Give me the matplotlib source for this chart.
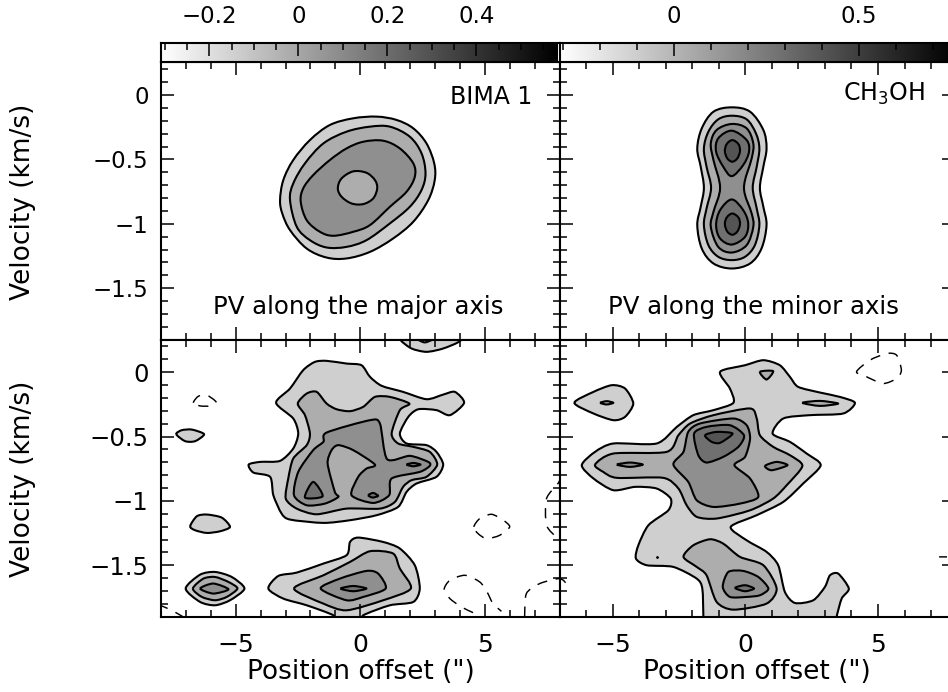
import numpy as np
import matplotlib
matplotlib.use("Agg")
import matplotlib.pyplot as plt
from matplotlib.path import Path
from matplotlib.patches import PathPatch
from matplotlib.ticker import FixedLocator, MultipleLocator, NullFormatter

W, H = 948, 692
plt.rcParams['font.family'] = ['DejaVu Sans']
plt.rcParams['axes.unicode_minus'] = True

G1, G2, G3, G4, G5 = 0.81, 0.68, 0.56, 0.44, 0.33

# ---------- top left (BIMA 1, major axis)
tl1x = [-3.22,-3.09,-2.69,-2.02,-1.22,-0.28,0.66,1.46,2.13,2.66,2.97,2.99,2.73,2.13,1.32,0.39,-0.55,-1.35,-2.15,-2.82,-3.13]
tl1y = [-0.816,-0.661,-0.505,-0.350,-0.233,-0.181,-0.168,-0.194,-0.259,-0.376,-0.531,-0.661,-0.816,-0.984,-1.114,-1.218,-1.269,-1.262,-1.192,-1.049,-0.920]
tl2x = [-2.82,-2.69,-2.22,-1.48,-0.55,0.39,1.19,1.99,2.46,2.62,2.46,1.99,1.19,0.25,-0.55,-1.35,-2.02,-2.55]
tl2y = [-0.816,-0.687,-0.531,-0.376,-0.285,-0.246,-0.246,-0.324,-0.453,-0.609,-0.738,-0.868,-0.997,-1.127,-1.179,-1.184,-1.127,-1.023]
tl3x = [-2.39,-2.29,-1.89,-1.22,-0.55,0.12,0.92,1.59,2.13,2.19,1.86,1.19,0.39,-0.28,-1.08,-1.62,-2.15]
tl3y = [-0.829,-0.725,-0.622,-0.505,-0.415,-0.363,-0.355,-0.415,-0.531,-0.635,-0.751,-0.868,-1.010,-1.062,-1.093,-1.062,-0.972]
tl4x = [-0.90,-0.75,-0.28,0.25,0.59,0.68,0.52,0.12,-0.35,-0.75]
tl4y = [-0.725,-0.648,-0.593,-0.604,-0.661,-0.725,-0.803,-0.847,-0.842,-0.790]

# ---------- top right (CH3OH, minor axis)
tr1x = [-0.51,0.18,0.68,0.80,0.68,0.55,0.68,0.80,0.61,0.18,-0.51,-1.20,-1.64,-1.81,-1.68,-1.56,-1.68,-1.81,-1.64,-1.20]
tr1y = [-0.096,-0.130,-0.272,-0.415,-0.557,-0.720,-0.868,-1.010,-1.192,-1.308,-1.347,-1.308,-1.192,-1.010,-0.868,-0.720,-0.557,-0.415,-0.259,-0.130]
tr2x = [-0.51,0.05,0.40,0.53,0.43,0.28,0.43,0.53,0.36,-0.01,-0.51,-1.02,-1.39,-1.56,-1.46,-1.29,-1.46,-1.56,-1.39,-1.02]
tr2y = [-0.161,-0.189,-0.298,-0.415,-0.557,-0.720,-0.881,-1.010,-1.166,-1.256,-1.282,-1.256,-1.166,-1.010,-0.881,-0.720,-0.557,-0.415,-0.285,-0.189]
tr3x = [-0.51,0.05,0.30,0.24,-0.05,0.24,0.30,0.05,-0.51,-1.02,-1.30,-1.20,-0.95,-1.20,-1.30,-1.08]
tr3y = [-0.225,-0.259,-0.376,-0.492,-0.720,-0.920,-1.023,-1.166,-1.223,-1.179,-1.023,-0.907,-0.720,-0.505,-0.376,-0.272]
tr4ax = [-0.51,0.05,0.14,-0.08,-0.51,-0.83,-1.10,-1.02]
tr4ay = [-0.277,-0.350,-0.440,-0.544,-0.630,-0.557,-0.440,-0.337]
tr4bx = [-0.51,-0.08,0.11,-0.01,-0.51,-0.95,-1.10,-0.95]
tr4by = [-0.811,-0.894,-0.997,-1.101,-1.161,-1.114,-1.010,-0.894]
tr5x = [-0.49,-0.26,-0.20,-0.30,-0.49,-0.68,-0.77,-0.70]
tr5ay = [-0.350,-0.381,-0.435,-0.492,-0.518,-0.492,-0.435,-0.381]
tr5by = [-0.920,-0.951,-1.003,-1.060,-1.085,-1.060,-1.003,-0.951]

# ---------- bottom left
bl_main1x = [-3.38,-2.82,-2.29,-1.82,-1.35,-0.55,0.05,0.39,0.86,1.72,2.66,3.33,3.80,4.17,3.60,3.06,2.33,1.93,1.59,1.86,2.66,3.06,3.33,3.06,2.26,1.86,1.52,0.66,-0.41,-1.48,-2.82,-3.16,-3.49,-3.62,-4.29,-4.48,-4.02,-3.22,-2.69,-2.49,-2.69]
bl_main1y = [-0.238,-0.127,0.016,0.080,0.088,0.067,0.054,-0.036,-0.106,-0.153,-0.210,-0.174,-0.153,-0.238,-0.334,-0.295,-0.288,-0.347,-0.477,-0.554,-0.567,-0.619,-0.718,-0.813,-0.865,-0.930,-1.047,-1.111,-1.150,-1.171,-1.145,-1.098,-0.956,-0.813,-0.780,-0.718,-0.697,-0.689,-0.593,-0.477,-0.360]
bl_main2x = [-2.51,-2.15,-1.75,-1.35,-0.95,-0.41,0.12,0.59,1.19,1.97,1.59,1.26,1.52,2.13,2.79,3.09,2.66,2.06,1.72,1.39,0.79,-0.55,-1.75,-2.55,-2.99,-2.89,-2.69,-2.15,-2.02,-2.22]
bl_main2y = [-0.244,-0.166,-0.153,-0.244,-0.288,-0.303,-0.269,-0.192,-0.192,-0.244,-0.295,-0.477,-0.554,-0.580,-0.619,-0.718,-0.813,-0.839,-0.891,-1.008,-1.060,-1.060,-1.104,-1.060,-0.982,-0.826,-0.671,-0.567,-0.477,-0.334]
bl_main3x = [-2.66,-2.49,-1.89,-1.48,-1.35,0.39,0.79,1.08,1.99,2.73,2.79,2.39,1.26,1.16,0.52,-0.35,-0.08,0.25,0.59,-0.28,-0.88,-1.15,-1.31,-1.02,-0.88,-1.42,-2.15]
bl_main3y = [-0.956,-0.775,-0.606,-0.541,-0.469,-0.373,-0.399,-0.676,-0.650,-0.697,-0.728,-0.775,-0.826,-0.956,-1.016,-0.956,-0.813,-0.749,-0.718,-0.606,-0.567,-0.606,-0.710,-0.930,-0.969,-1.021,-1.034]
bl_p1x = [-1.89,-1.51,-2.22]
bl_p1y = [-0.852,-0.964,-0.974]
bl_p2x = [0.32,0.52,0.72,0.49]
bl_p2y = [-0.956,-0.938,-0.961,-0.974]
bl_p3x = [1.86,2.13,2.42,2.13]
bl_p3y = [-0.718,-0.705,-0.718,-0.731]
bl_topx = [1.62,1.62,2.06,2.66,3.33,4.00,4.00]
bl_topy = [0.30,0.249,0.184,0.158,0.184,0.241,0.30]
bl_top2x = [2.33,2.59,2.90]
bl_top2y = [0.256,0.231,0.256]
bl_i1x = [-7.39,-7.17,-6.76,-6.27,-6.63,-7.03]
bl_i1y = [-0.482,-0.451,-0.446,-0.482,-0.536,-0.536]
bl_i2x = [-6.83,-6.56,-6.16,-5.56,-5.23,-5.63,-6.16,-6.63]
bl_i2y = [-1.197,-1.119,-1.106,-1.130,-1.202,-1.236,-1.249,-1.228]
bl_d1x = [-7.01,-6.43,-5.83,-5.16,-4.65,-5.23,-5.83,-6.43]
bl_d1y = [-1.681,-1.573,-1.552,-1.591,-1.681,-1.772,-1.811,-1.785]
bl_d2x = [-6.72,-6.30,-5.83,-5.29,-4.93,-5.36,-5.83,-6.36]
bl_d2y = [-1.681,-1.604,-1.591,-1.630,-1.681,-1.746,-1.772,-1.746]
bl_d3x = [-6.43,-5.90,-5.29,-5.90]
bl_d3y = [-1.681,-1.642,-1.687,-1.720]
bl_low1x = [-3.69,-3.29,-2.55,-1.48,-0.55,-0.41,-0.08,0.92,1.59,2.19,2.39,2.13,1.19,0.12,0.12,-1.08,-1.08,-2.15,-3.09]
bl_low1y = [-1.681,-1.583,-1.557,-1.487,-1.422,-1.319,-1.285,-1.319,-1.370,-1.500,-1.681,-1.785,-1.811,-1.889,-1.94,-1.94,-1.889,-1.811,-1.759]
bl_low2x = [-2.66,-1.48,-0.41,0.39,1.32,1.59,2.03,0.92,-0.55,-1.48]
bl_low2y = [-1.681,-1.578,-1.474,-1.391,-1.409,-1.526,-1.681,-1.772,-1.850,-1.798]
bl_low3x = [-1.59,-0.82,0.25,0.72,1.02,0.12,-0.55]
bl_low3y = [-1.681,-1.604,-1.544,-1.565,-1.681,-1.746,-1.772]
bl_low4x = [-0.79,-0.28,0.25,-0.28]
bl_low4y = [-1.681,-1.661,-1.681,-1.702]
# negative (dashed) contours
bl_n1x = [-6.70,-6.50,-6.16,-5.79,-6.03,-6.43]
bl_n1y = [-0.238,-0.187,-0.179,-0.231,-0.262,-0.262]
bl_n2x = [4.56,4.80,5.27,5.74,6.00,5.60,5.07,4.73]
bl_n2y = [-1.202,-1.137,-1.104,-1.150,-1.202,-1.267,-1.293,-1.254]
bl_n3x = [4.53,4.06,3.60,3.37,3.60,4.20,4.80,5.09,5.33,5.67]
bl_n3y = [-1.868,-1.824,-1.759,-1.687,-1.617,-1.578,-1.630,-1.707,-1.798,-1.858]
bl_n4x = [6.60,6.67,7.21,7.94,8.3]
bl_n4y = [-1.90,-1.720,-1.642,-1.604,-1.60]
bl_n5x = [8.1,7.94,7.48,7.48,7.94,8.1]
bl_n5y = [-0.80,-0.865,-0.982,-1.189,-1.293,-1.31]
bl_n6x = [-8.1,-7.97,-7.57,-7.10]
bl_n6y = [-1.80,-1.816,-1.850,-1.902]

# ---------- bottom right
br_main1x = [-0.95,-0.01,0.68,1.30,1.68,1.99,2.81,3.56,4.13,3.69,2.43,1.43,1.03,1.68,2.31,2.84,2.18,1.43,0.43,-0.55,0.05,0.80,1.24,1.49,1.87,2.56,3.00,3.19,3.50,3.90,3.63,3.44,3.44,-1.58,-1.58,-1.62,-1.83,-2.71,-3.71,-4.12,-4.03,-3.65,-2.90,-2.81,-3.34,-4.15,-4.97,-5.72,-6.16,-5.66,-4.97,-3.34,-2.58,-1.96,-1.20,-0.45,-0.58]
br_main1y = [0.003,0.054,0.093,0.054,-0.036,-0.114,-0.158,-0.192,-0.238,-0.321,-0.334,-0.360,-0.477,-0.541,-0.632,-0.723,-0.865,-1.008,-1.111,-1.202,-1.306,-1.396,-1.500,-1.707,-1.793,-1.772,-1.668,-1.578,-1.565,-1.681,-1.759,-1.90,-1.94,-1.94,-1.90,-1.681,-1.604,-1.513,-1.500,-1.448,-1.345,-1.189,-1.073,-0.982,-0.904,-0.891,-0.917,-0.826,-0.723,-0.619,-0.554,-0.554,-0.425,-0.334,-0.295,-0.238,-0.127]
br_main2x = [-5.66,-4.97,-2.96,-2.52,-2.08,-1.20,0.18,0.43,0.55,1.05,1.68,2.15,1.56,1.05,0.18,-1.08,-1.83,-2.21,-2.52,-3.09,-4.84,-5.35]
br_main2y = [-0.718,-0.632,-0.619,-0.490,-0.399,-0.334,-0.282,-0.360,-0.490,-0.580,-0.645,-0.728,-0.878,-0.982,-1.073,-1.137,-1.124,-1.034,-0.904,-0.821,-0.821,-0.775]
br_main3x = [-2.71,-2.33,-2.15,-1.71,-0.45,0.05,0.18,-0.01,-0.41,0.18,0.49,-0.20,-1.20,-1.83,-2.15]
br_main3y = [-0.718,-0.619,-0.464,-0.399,-0.360,-0.412,-0.516,-0.658,-0.723,-0.826,-0.969,-1.021,-1.047,-0.995,-0.852]
br_main4x = [-1.93,-1.46,-0.58,-0.05,-0.26,-0.83,-1.46,-1.77]
br_main4y = [-0.477,-0.425,-0.412,-0.490,-0.580,-0.658,-0.702,-0.645]
br_main5x = [-1.52,-1.08,-0.48,-0.95,-1.27]
br_main5y = [-0.490,-0.464,-0.477,-0.549,-0.541]
br_s1x = [-4.84,-4.34,-3.86,-4.34]
br_s1y = [-0.718,-0.702,-0.718,-0.736]
br_s2x = [0.74,1.18,1.59,0.99]
br_s2y = [-0.728,-0.697,-0.723,-0.762]
br_s3x = [0.55,1.05,0.80]
br_s3y = [0.003,0.008,-0.057]
br_s4x = [2.15,2.81,3.50,2.81]
br_s4y = [-0.238,-0.223,-0.244,-0.262]
br_i1x = [-6.44,-5.72,-5.03,-4.53,-4.22,-4.53,-4.97,-5.72]
br_i1y = [-0.238,-0.153,-0.101,-0.127,-0.244,-0.347,-0.373,-0.321]
br_i2x = [-5.47,-5.22,-4.97,-5.22]
br_i2y = [-0.238,-0.225,-0.238,-0.251]
br_low2x = [-2.33,-1.96,-1.33,-0.83,-0.20,0.68,1.18,0.80,-0.45,-1.08,-1.46,-1.83]
br_low2y = [-1.435,-1.345,-1.298,-1.332,-1.435,-1.500,-1.681,-1.798,-1.845,-1.785,-1.578,-1.513]
br_low3x = [-0.85,-0.64,-0.08,0.49,0.87,0.55,0.05,-0.58]
br_low3y = [-1.668,-1.552,-1.544,-1.591,-1.681,-1.733,-1.746,-1.746]
br_low4x = [-0.39,-0.01,0.33,-0.01]
br_low4y = [-1.676,-1.655,-1.681,-1.702]
br_n1x = [4.19,4.69,5.32,5.70,5.88,5.70,5.19,4.57]
br_n1y = [0.003,0.093,0.145,0.132,0.016,-0.049,-0.088,-0.036]
br_n2x = [-7.1,-6.85,-6.60]
br_n2y = [-1.60,-1.617,-1.681]
br_n3x = [7.30,7.60]
br_n3y = [-1.435,-1.435]
br_dotx = [-3.31]
br_doty = [-1.435]

# ---------- axes and scale labels
vel_ticks = [-1.5, -1, -0.5, 0]
vel_labels = ["\u22121.5", "\u22121", "\u22120.5", "0"]
pos_ticks = [-5, 0, 5]
pos_labels = ["\u22125", "0", "5"]
cb1_ticks = [-0.2, 0, 0.2, 0.4]
cb1_labels = ["\u22120.2", "0", "0.2", "0.4"]
cb2_ticks = [0, 0.5]
cb2_labels = ["0", "0.5"]
xlabel = 'Position offset (")'
ylabel = "Velocity (km/s)"

def smooth(x, y, closed=True, k=1/6):
    p = np.column_stack([x, y]).astype(float)
    n = len(p)
    verts, codes = [p[0]], [Path.MOVETO]
    rng = n if closed else n - 1
    for i in range(rng):
        if closed:
            p0, p1, p2, p3 = p[(i-1) % n], p[i], p[(i+1) % n], p[(i+2) % n]
        else:
            p0, p1, p2, p3 = p[max(i-1, 0)], p[i], p[i+1], p[min(i+2, n-1)]
        verts += [p1 + k*(p2-p0), p2 - k*(p3-p1), p2]
        codes += [Path.CURVE4]*3
    return Path(verts, codes)

def fill(ax, x, y, g, k=0.13):
    ax.add_patch(PathPatch(smooth(x, y, True, k), facecolor=str(g), edgecolor='k', lw=1.5, joinstyle='round'))

def dash(ax, x, y, closed=True):
    ax.add_patch(PathPatch(smooth(x, y, closed, 0.13), facecolor='none', edgecolor='k', lw=1.05,
                           linestyle=(0, (7, 6))))

def px_axes(fig, l, r, t, b):
    return fig.add_axes([l/W, 1-b/H, (r-l)/W, (b-t)/H])

fig = plt.figure(figsize=(W/100, H/100), dpi=100)
XL, XM, XR = 161, 559.5, 955
YC, Y0, Y1, Y2 = 43, 62, 340, 617

def style(ax, xl, yl, left, bottom):
    ax.set_xlim(*xl); ax.set_ylim(*yl)
    ax.set_axisbelow(False)
    for s in ax.spines.values():
        s.set_linewidth(1.5)
    ax.xaxis.set_major_locator(FixedLocator(pos_ticks))
    ax.xaxis.set_minor_locator(MultipleLocator(1))
    ax.yaxis.set_major_locator(FixedLocator(vel_ticks))
    ax.yaxis.set_minor_locator(MultipleLocator(0.1))
    ax.xaxis.set_minor_formatter(NullFormatter())
    ax.yaxis.set_minor_formatter(NullFormatter())
    ax.tick_params(which='both', direction='in', top=True, right=True, bottom=True, left=True, width=1.1)
    ax.tick_params(which='major', length=9.6)
    ax.tick_params(which='minor', length=5)
    if left:
        ax.set_yticklabels(vel_labels, fontsize=17.5 if bottom else 16.5)
        ax.tick_params(axis='y', which='major', pad=9)
    else:
        ax.set_yticklabels([])
    if bottom:
        ax.set_xticklabels(pos_labels, fontsize=18)
        ax.tick_params(axis='x', which='major', pad=11.5)
    else:
        ax.set_xticklabels([])

YL_T = (-1.902, 0.256)
YL_B = (-1.902, 0.25)
XL_L = (-8, 8)
XL_R = (-7, 7.9)

axTL = px_axes(fig, XL, XM, Y0, Y1); style(axTL, XL_L, YL_T, True, False)
axTR = px_axes(fig, XM, XR, Y0, Y1); style(axTR, XL_R, YL_T, False, False)
axBL = px_axes(fig, XL, XM, Y1, Y2); style(axBL, XL_L, YL_B, True, True)
axBR = px_axes(fig, XM, XR, Y1, Y2); style(axBR, XL_R, YL_B, False, True)

for x, y, g in [(tl1x, tl1y, G1), (tl2x, tl2y, G2), (tl3x, tl3y, G3), (tl4x, tl4y, G2)]:
    fill(axTL, x, y, g, 1/6)

for x, y, g in [(tr1x, tr1y, G1), (tr2x, tr2y, G2), (tr3x, tr3y, G3), (tr4ax, tr4ay, G4), (tr4bx, tr4by, G4),
                (tr5x, tr5ay, G5), (tr5x, tr5by, G5)]:
    fill(axTR, x, y, g, 1/6)

for x, y, g in [(bl_main1x, bl_main1y, G1), (bl_main2x, bl_main2y, G2), (bl_main3x, bl_main3y, G3),
                (bl_p1x, bl_p1y, G4), (bl_p2x, bl_p2y, G4), (bl_p3x, bl_p3y, G4),
                (bl_topx, bl_topy, G1), (bl_top2x, bl_top2y, G2),
                (bl_i1x, bl_i1y, G1), (bl_i2x, bl_i2y, G1),
                (bl_d1x, bl_d1y, G1), (bl_d2x, bl_d2y, G2), (bl_d3x, bl_d3y, G3),
                (bl_low1x, bl_low1y, G1), (bl_low2x, bl_low2y, G2), (bl_low3x, bl_low3y, G3), (bl_low4x, bl_low4y, G4)]:
    fill(axBL, x, y, g)
for x, y in [(bl_n1x, bl_n1y), (bl_n2x, bl_n2y)]:
    dash(axBL, x, y)
for x, y in [(bl_n3x, bl_n3y), (bl_n4x, bl_n4y), (bl_n5x, bl_n5y), (bl_n6x, bl_n6y)]:
    dash(axBL, x, y, closed=False)

for x, y, g in [(br_main1x, br_main1y, G1), (br_main2x, br_main2y, G2), (br_main3x, br_main3y, G3),
                (br_main4x, br_main4y, G4), (br_main5x, br_main5y, G5),
                (br_s1x, br_s1y, G3), (br_s2x, br_s2y, G3), (br_s3x, br_s3y, G2), (br_s4x, br_s4y, G2),
                (br_i1x, br_i1y, G1), (br_i2x, br_i2y, G2),
                (br_low2x, br_low2y, G2), (br_low3x, br_low3y, G3), (br_low4x, br_low4y, G4)]:
    fill(axBR, x, y, g)
dash(axBR, br_n1x, br_n1y)
dash(axBR, br_n2x, br_n2y, closed=False)
dash(axBR, br_n3x, br_n3y, closed=False)
axBR.plot(br_dotx, br_doty, 'k.', ms=2)

# colour bars
cb1_lim = (-0.3085, 0.587)
cb1_img_hi = 0.582
cb2_lim = (-0.3095, 0.7595)
grad = np.linspace(0, 1, 256)[None, :]

def colorbar(l, r, lim, img_hi, ticks, labels, minor):
    a = px_axes(fig, l, r, YC, Y0)
    a.imshow(grad, aspect='auto', cmap='gray_r', extent=(lim[0], img_hi, 0, 1), vmin=0, vmax=1)
    a.set_xlim(*lim); a.set_ylim(0, 1)
    a.set_yticks([])
    for s in a.spines.values():
        s.set_linewidth(1.5)
    a.xaxis.set_major_locator(FixedLocator(ticks))
    a.xaxis.set_minor_locator(MultipleLocator(minor))
    a.xaxis.set_minor_formatter(NullFormatter())
    a.set_xticklabels(labels, fontsize=16.5)
    a.tick_params(which='both', axis='x', direction='in', top=True, bottom=False,
                  labeltop=True, labelbottom=False, width=1.1)
    a.tick_params(which='major', axis='x', length=9.6, pad=10.5)
    a.tick_params(which='minor', axis='x', length=5)
    return a

colorbar(XL, XM, cb1_lim, cb1_img_hi, cb1_ticks, cb1_labels, 0.05)
colorbar(XM, XR, cb2_lim, cb2_lim[1], cb2_ticks, cb2_labels, 0.1)

# labels
fig.text(532/W, 1-97/H, "BIMA 1", ha='right', va='center', fontsize=17)
fig.text(925/W, 1-94/H, "CH$_3$OH", ha='right', va='center', fontsize=17, math_fontfamily='dejavusans')
fig.text(358/W, 1-307/H, "PV along the major axis", ha='center', va='center', fontsize=17.6)
fig.text(754/W, 1-307/H, "PV along the minor axis", ha='center', va='center', fontsize=17.6)
fig.text(361/W, 1-672/H, xlabel, ha='center', va='center', fontsize=19)
fig.text(757/W, 1-672/H, xlabel, ha='center', va='center', fontsize=19)
fig.text(23/W, 1-202/H, ylabel, ha='center', va='center', rotation=90, fontsize=19)
fig.text(23/W, 1-479/H, ylabel, ha='center', va='center', rotation=90, fontsize=19)

fig.savefig("out.png", dpi=100)
